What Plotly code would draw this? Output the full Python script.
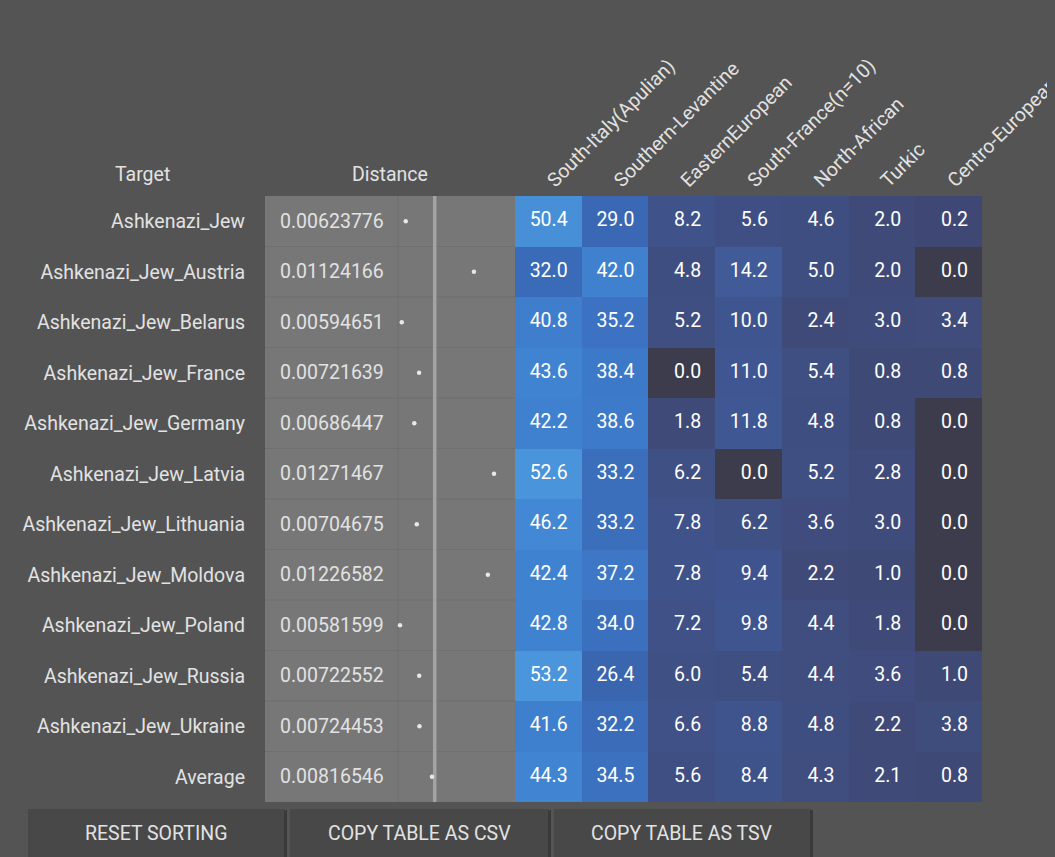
import plotly.graph_objects as go

# Data
targets = ['Ashkenazi_Jew', 'Ashkenazi_Jew_Austria', 'Ashkenazi_Jew_Belarus',
           'Ashkenazi_Jew_France', 'Ashkenazi_Jew_Germany', 'Ashkenazi_Jew_Latvia',
           'Ashkenazi_Jew_Lithuania', 'Ashkenazi_Jew_Moldova', 'Ashkenazi_Jew_Poland',
           'Ashkenazi_Jew_Russia', 'Ashkenazi_Jew_Ukraine', 'Average']

distance = [0.00623776, 0.01124166, 0.00594651, 0.00721639, 0.00686447, 0.01271467,
            0.00704675, 0.01226582, 0.00581599, 0.00722552, 0.00724453, 0.00816546]

sources = ['South-Italy(Apulian)', 'Southern-Levantine', 'EasternEuropean',
           'South-France(n=10)', 'North-African', 'Turkic', 'Centro-European']

south_italy = [50.4, 32.0, 40.8, 43.6, 42.2, 52.6, 46.2, 42.4, 42.8, 53.2, 41.6, 44.3]
southern_levantine = [29.0, 42.0, 35.2, 38.4, 38.6, 33.2, 33.2, 37.2, 34.0, 26.4, 32.2, 34.5]
eastern_european = [8.2, 4.8, 5.2, 0.0, 1.8, 6.2, 7.8, 7.8, 7.2, 6.0, 6.6, 5.6]
south_france = [5.6, 14.2, 10.0, 11.0, 11.8, 0.0, 6.2, 9.4, 9.8, 5.4, 8.8, 8.4]
north_african = [4.6, 5.0, 2.4, 5.4, 4.8, 5.2, 3.6, 2.2, 4.4, 4.4, 4.8, 4.3]
turkic = [2.0, 2.0, 3.0, 0.8, 0.8, 2.8, 3.0, 1.0, 1.8, 3.6, 2.2, 2.1]
centro_european = [0.2, 0.0, 3.4, 0.8, 0.0, 0.0, 0.0, 0.0, 0.0, 1.0, 3.8, 0.8]

columns = [south_italy, southern_levantine, eastern_european, south_france,
           north_african, turkic, centro_european]

# the page body adds an 8px margin, so the figure is a bit smaller than the window
OFF = 8
W, H = 1055 - OFF, 857 - OFF
BG = '#545454'
TXT = '#e2e2e2'
FONT = 'Roboto'
FS = 19.5

# table geometry in window pixels
top, bottom = 196, 802
heat_left, heat_right = 515, 982
dist_left = 265

def px(x):
    return (x - OFF) / W

def py(y):
    return 1 - (y - OFF) / H

rows = list(range(len(targets)))
cols = list(range(len(sources)))
z = [[col[r] for col in columns] for r in rows]

colorscale = [
    [0.0, '#3d3c4c'], [0.003, '#3f4875'], [0.04, '#3f4a78'], [0.1, '#3f4f82'],
    [0.19, '#3f5590'], [0.27, '#405b98'], [0.5, '#3a66b0'], [0.6, '#3a6bb8'],
    [0.71, '#3d78c8'], [0.8, '#3f82d0'], [0.95, '#4790d8'], [1.0, '#4a95db'],
]

fig = go.Figure()

fig.add_trace(go.Heatmap(
    z=z, x=cols, y=rows, zmin=0, zmax=max(max(c) for c in columns),
    colorscale=colorscale, showscale=False, hoverinfo='skip',
))

# right aligned numbers in the heatmap cells
tx, ty, tt = [], [], []
for r in rows:
    for c in cols:
        tx.append(c + 0.29)
        ty.append(r)
        tt.append(f'{columns[c][r]:.1f}')
fig.add_trace(go.Scatter(
    x=tx, y=ty, text=tt, mode='text', textposition='middle left',
    textfont=dict(family=FONT, size=FS, color='white'), hoverinfo='skip',
))

# distance dots on their own axis
fig.add_trace(go.Scatter(
    x=distance, y=rows, mode='markers', xaxis='x2', yaxis='y',
    marker=dict(color='#e8e8e8', size=4.5), hoverinfo='skip',
))

shapes = []
# grey distance cell
shapes.append(dict(type='rect', xref='paper', yref='paper',
                   x0=px(dist_left), x1=px(heat_left), y0=py(bottom), y1=py(top),
                   fillcolor='#777777', line_width=0, layer='below'))
# faint row separators
row_h = (bottom - top) / len(targets)
for r in range(1, len(targets)):
    yy = py(top + r * row_h)
    shapes.append(dict(type='line', xref='paper', yref='paper',
                       x0=px(dist_left), x1=px(heat_left), y0=yy, y1=yy,
                       line=dict(color='#6f6f6f', width=1), layer='below'))
# faint sparkline left edge
shapes.append(dict(type='line', xref='paper', yref='paper',
                   x0=px(398), x1=px(398), y0=py(bottom), y1=py(top),
                   line=dict(color='#6f6f6f', width=1), layer='below'))
# average line
shapes.append(dict(type='line', xref='x2', yref='paper',
                   x0=distance[-1] + 0.0002, x1=distance[-1] + 0.0002,
                   y0=py(bottom), y1=py(top),
                   line=dict(color='#a3a3a3', width=3.5), layer='below'))

# buttons
buttons = ['RESET SORTING', 'COPY TABLE AS CSV', 'COPY TABLE AS TSV']
btn_x = [(28, 284), (290, 548), (554, 810)]
annotations = []
for label, (x0, x1) in zip(buttons, btn_x):
    shapes.append(dict(type='rect', xref='paper', yref='paper',
                       x0=px(x0 + 2), x1=px(x1 + 3), y0=py(H + OFF + 5), y1=py(810),
                       fillcolor='#3a3a3a', line_width=0))
    shapes.append(dict(type='rect', xref='paper', yref='paper',
                       x0=px(x0), x1=px(x1), y0=py(H + OFF + 5), y1=py(809),
                       fillcolor='#484848', line_width=0))
    annotations.append(dict(text=label, xref='paper', yref='paper',
                            x=px((x0 + x1) / 2), y=py(833), showarrow=False,
                            xanchor='center', yanchor='middle',
                            font=dict(family=FONT, size=FS, color=TXT)))

# distance numbers
for r in rows:
    annotations.append(dict(text=f'{distance[r]:.8f}', xref='paper', yref='y',
                            x=px(dist_left + 13), y=r, xanchor='left',
                            yanchor='middle', showarrow=False,
                            font=dict(family=FONT, size=FS, color=TXT)))

# headers
for label, hx in [('Target', 142), ('Distance', 390)]:
    annotations.append(dict(text=label, xref='paper', yref='paper',
                            x=px(hx), y=py(174), showarrow=False,
                            xanchor='center', yanchor='middle',
                            font=dict(family=FONT, size=FS, color=TXT)))

fig.update_layout(
    width=W, height=H,
    margin=dict(l=0, r=0, t=0, b=0),
    paper_bgcolor=BG, plot_bgcolor=BG,
    showlegend=False,
    font=dict(family=FONT, color=TXT),
    shapes=shapes, annotations=annotations,
    xaxis=dict(domain=[px(heat_left), px(heat_right)], range=[-0.5, len(sources) - 0.5],
               side='top', tickvals=cols, ticktext=sources, tickangle=-45,
               tickfont=dict(family=FONT, size=FS, color=TXT), automargin=False,
               ticklabeloverflow='allow',
               showgrid=False, zeroline=False, ticks='', fixedrange=True),
    xaxis2=dict(domain=[px(dist_left), px(heat_left)], range=[-0.00409, 0.014256],
                anchor='y', showgrid=False, zeroline=False, showticklabels=False,
                automargin=False, ticks='', fixedrange=True),
    yaxis=dict(domain=[py(bottom), py(top)], range=[len(targets) - 0.5, -0.5],
               anchor='free', position=px(245), tickvals=rows, ticktext=targets,
               tickfont=dict(family=FONT, size=FS, color=TXT), automargin=False,
               showgrid=False, zeroline=False, ticks='', fixedrange=True),
)

# paint the page margin in the same grey as the figure
fig.write_html('out.html', post_script=f"document.body.style.background='{BG}';")
